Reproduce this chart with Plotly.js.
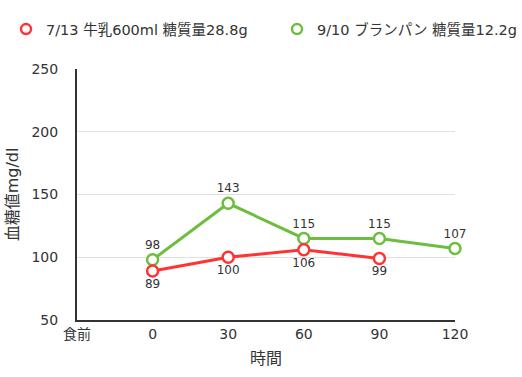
<!DOCTYPE html>
<html><head><meta charset="utf-8">
<script src="https://cdn.plot.ly/plotly-3.0.1.min.js"></script>
<style>html,body{margin:0;padding:0;background:#fff}</style>
</head><body>
<div id="chart" style="width:522px;height:377px"></div>
<script>
const categories = ["食前", "0", "30", "60", "90", "120"];
const seriesNames = ["7/13 牛乳600ml 糖質量28.8g", "9/10 ブランパン 糖質量12.2g"];
const milkValues = [null, 89, 100, 106, 99, null];
const breadValues = [null, 98, 143, 115, 115, 107];
const yTicks = [50, 100, 150, 200, 250];

const colors = ["#ff3333", "#6dbd3f"];
const font = "'DejaVu Sans', 'Noto Sans CJK JP', sans-serif";
const xIdx = categories.map((c, i) => i);

function seriesTrace(vals, i, pos) {
  return {
    x: xIdx, y: vals, type: "scatter", mode: "lines+markers+text",
    text: vals.map(v => v == null ? "" : String(v)),
    textposition: pos,
    textfont: {family: font, size: 12, color: "#333"},
    line: {color: colors[i], width: 3},
    marker: {symbol: "circle", size: 11, color: "#fff", line: {color: colors[i], width: 2.5}},
    showlegend: false, cliponaxis: false, hoverinfo: "skip"
  };
}
function legendTrace(i, lg) {
  return {
    x: [null], y: [null], type: "scatter", mode: "markers", name: seriesNames[i], legend: lg,
    marker: {symbol: "circle", size: 10, color: "#fff", line: {color: colors[i], width: 2.5}}
  };
}

const data = [
  seriesTrace(breadValues, 1, "top center"),
  seriesTrace(milkValues, 0, "bottom center"),
  legendTrace(0, "legend"), legendTrace(1, "legend2")
];

const legendBase = {orientation: "h", xanchor: "left", y: 0.965, yanchor: "top", xref: "container", yref: "container",
           font: {family: font, size: 14.5, color: "#333"}, itemwidth: 30, bgcolor: "rgba(0,0,0,0)"};

const layout = {
  width: 522, height: 377,
  margin: {l: 77, r: 67, t: 69, b: 57},
  paper_bgcolor: "#fff", plot_bgcolor: "#fff",
  font: {family: font, color: "#333", size: 14},
  showlegend: true,
  legend: Object.assign({}, legendBase, {x: 6 / 522}),
  legend2: Object.assign({}, legendBase, {x: 277 / 522}),
  xaxis: {
    range: [0, 5], tickvals: xIdx, ticktext: categories, showgrid: false, zeroline: false,
    showline: true, linecolor: "#333", linewidth: 2, ticks: "",
    tickfont: {family: font, size: 14, color: "#333"},
    title: {text: "時間", font: {family: font, size: 16, color: "#333"}, standoff: 12}
  },
  yaxis: {
    range: [50, 250], tickvals: yTicks, showgrid: true, gridcolor: "#e0e0e0", gridwidth: 1,
    zeroline: false, showline: true, linecolor: "#333", linewidth: 2, ticks: "",
    ticklabelstandoff: 14,
    tickfont: {family: font, size: 14, color: "#333"},
    title: {text: "血糖値mg/dl", font: {family: font, size: 16, color: "#333"}, standoff: 9}
  }
};

Plotly.newPlot("chart", data, layout, {displayModeBar: false, staticPlot: true});
</script>
</body></html>
